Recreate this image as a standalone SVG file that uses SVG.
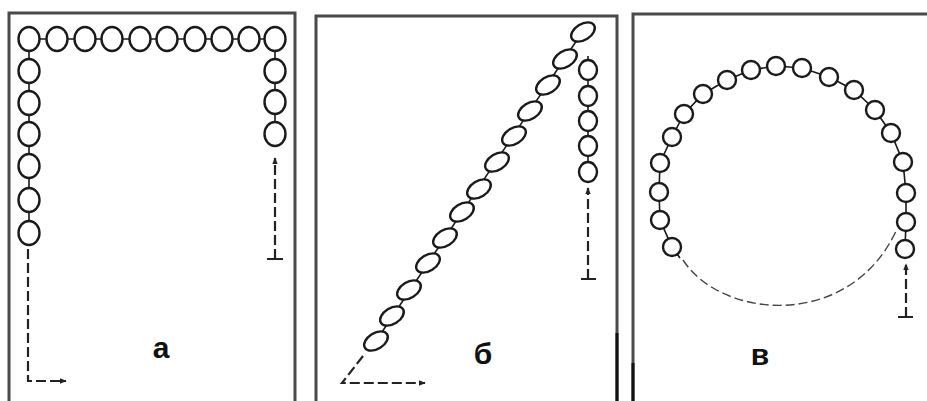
<svg xmlns="http://www.w3.org/2000/svg" width="927" height="401" viewBox="0 0 927 401">
<style>
.frame{fill:none;stroke:#4a4a4a;stroke-width:3}
.edge{stroke:#111;stroke-width:3}
.bead{fill:#fff;stroke:#1a1a1a;stroke-width:2.4}
.chain{fill:none;stroke:#1a1a1a;stroke-width:1.6}
.dash{fill:none;stroke:#222;stroke-width:2.2;stroke-dasharray:10 4}
.dash2{fill:none;stroke:#444;stroke-width:1.4;stroke-dasharray:9 4}
.stop{stroke:#222;stroke-width:2}
.lbl{font-family:"Liberation Sans",Arial,sans-serif;font-weight:bold;font-size:30px;fill:#111;text-anchor:middle}
</style>
<defs>
<marker id="ah" viewBox="0 0 10 10" refX="9" refY="5" markerWidth="7" markerHeight="7" markerUnits="userSpaceOnUse" orient="auto">
<path d="M0,1 L10,5 L0,9 z" fill="#222"/>
</marker>
</defs>

<g id="panel-a">
<path class="frame" d="M9 401 V13 H295 V401"/>
<g id="chain-a">
<polyline class="chain" points="29,232 29,39 275,39 275,134"/>
<ellipse class="bead" cx="29" cy="39" rx="10.5" ry="12"/>
<ellipse class="bead" cx="57" cy="39" rx="10.5" ry="12"/>
<ellipse class="bead" cx="85" cy="39" rx="10.5" ry="12"/>
<ellipse class="bead" cx="112" cy="39" rx="10.5" ry="12"/>
<ellipse class="bead" cx="140" cy="39" rx="10.5" ry="12"/>
<ellipse class="bead" cx="167" cy="39" rx="10.5" ry="12"/>
<ellipse class="bead" cx="195" cy="39" rx="10.5" ry="12"/>
<ellipse class="bead" cx="222" cy="39" rx="10.5" ry="12"/>
<ellipse class="bead" cx="249" cy="39" rx="10.5" ry="12"/>
<ellipse class="bead" cx="275" cy="39" rx="10.5" ry="12"/>
<ellipse class="bead" cx="29" cy="71" rx="10.5" ry="12"/>
<ellipse class="bead" cx="29" cy="103" rx="10.5" ry="12"/>
<ellipse class="bead" cx="29" cy="134" rx="10.5" ry="12"/>
<ellipse class="bead" cx="29" cy="166" rx="10.5" ry="12"/>
<ellipse class="bead" cx="29" cy="200" rx="10.5" ry="12"/>
<ellipse class="bead" cx="29" cy="233" rx="10.5" ry="12"/>
<ellipse class="bead" cx="275" cy="71" rx="10.5" ry="12"/>
<ellipse class="bead" cx="275" cy="102" rx="10.5" ry="12"/>
<ellipse class="bead" cx="275" cy="134" rx="10.5" ry="12"/>
</g>
<g id="connectors-a">
<path class="dash" d="M28 249 V381 H66" marker-end="url(#ah)"/>
<path class="dash" d="M275 259 V158" marker-end="url(#ah)"/>
<line class="stop" x1="267" y1="259" x2="283" y2="259"/>
</g>
<text class="lbl" x="161" y="358">а</text>
</g>

<g id="panel-b">
<path class="frame" d="M316 401 V16 H617 V401"/>
<line class="edge" x1="617" y1="333" x2="617" y2="401"/>
<g id="chain-b">
<polyline class="chain" points="376,341 583,31"/>
<polyline class="chain" points="588,56 588,172"/>
<ellipse class="bead" cx="583" cy="32" rx="13" ry="8" transform="rotate(-32 583 32)"/>
<ellipse class="bead" cx="565" cy="59" rx="13" ry="8" transform="rotate(-32 565 59)"/>
<ellipse class="bead" cx="548" cy="85" rx="13" ry="8" transform="rotate(-32 548 85)"/>
<ellipse class="bead" cx="530" cy="111" rx="13" ry="8" transform="rotate(-32 530 111)"/>
<ellipse class="bead" cx="514" cy="136" rx="13" ry="8" transform="rotate(-32 514 136)"/>
<ellipse class="bead" cx="497" cy="162" rx="13" ry="8" transform="rotate(-32 497 162)"/>
<ellipse class="bead" cx="479" cy="189" rx="13" ry="8" transform="rotate(-32 479 189)"/>
<ellipse class="bead" cx="462" cy="212" rx="13" ry="8" transform="rotate(-32 462 212)"/>
<ellipse class="bead" cx="445" cy="238" rx="13" ry="8" transform="rotate(-32 445 238)"/>
<ellipse class="bead" cx="428" cy="263" rx="13" ry="8" transform="rotate(-32 428 263)"/>
<ellipse class="bead" cx="409" cy="290" rx="13" ry="8" transform="rotate(-32 409 290)"/>
<ellipse class="bead" cx="392" cy="316" rx="13" ry="8" transform="rotate(-32 392 316)"/>
<ellipse class="bead" cx="376" cy="341" rx="13" ry="8" transform="rotate(-32 376 341)"/>
<ellipse class="bead" cx="588" cy="70" rx="9" ry="10"/>
<ellipse class="bead" cx="588" cy="96" rx="9" ry="10"/>
<ellipse class="bead" cx="588" cy="121" rx="9" ry="10"/>
<ellipse class="bead" cx="588" cy="146" rx="9" ry="10"/>
<ellipse class="bead" cx="588" cy="172" rx="9" ry="10"/>
</g>
<g id="connectors-b">
<path class="dash" d="M363 356 L342 383 H425" marker-end="url(#ah)"/>
<path class="dash" d="M588 279 V188" marker-end="url(#ah)"/>
<line class="stop" x1="581" y1="279" x2="596" y2="279"/>
</g>
<text class="lbl" x="483" y="364">б</text>
</g>

<g id="panel-c">
<path class="frame" d="M633 401 V14 H927"/>
<line class="edge" x1="633" y1="363" x2="633" y2="401"/>
<g id="chain-c">
<polyline class="chain" points="680,258 672,247 660,220 659,192 660,163 672,137 684,114 703,94 727,80 751,70 776,66 802,68 829,77 854,90 875,110 891,133 903,162 906,193 906,222 905,249"/>
<circle class="bead" cx="672" cy="247" r="9"/>
<circle class="bead" cx="660" cy="220" r="9"/>
<circle class="bead" cx="659" cy="192" r="9"/>
<circle class="bead" cx="660" cy="163" r="9"/>
<circle class="bead" cx="672" cy="137" r="9"/>
<circle class="bead" cx="684" cy="114" r="9"/>
<circle class="bead" cx="703" cy="94" r="9"/>
<circle class="bead" cx="727" cy="80" r="9"/>
<circle class="bead" cx="751" cy="70" r="9"/>
<circle class="bead" cx="776" cy="66" r="9"/>
<circle class="bead" cx="802" cy="68" r="9"/>
<circle class="bead" cx="829" cy="77" r="9"/>
<circle class="bead" cx="854" cy="90" r="9"/>
<circle class="bead" cx="875" cy="110" r="9"/>
<circle class="bead" cx="891" cy="133" r="9"/>
<circle class="bead" cx="903" cy="162" r="9"/>
<circle class="bead" cx="906" cy="193" r="9"/>
<circle class="bead" cx="906" cy="222" r="9"/>
<circle class="bead" cx="905" cy="249" r="9"/>
</g>
<g id="connectors-c">
<path class="dash2" d="M683 260 C722 320 850 330 896 231"/>
<path class="dash" d="M906 317 V264" marker-end="url(#ah)"/>
<line class="stop" x1="898" y1="317" x2="913" y2="317"/>
</g>
<text class="lbl" x="760" y="365">в</text>
</g>
</svg>
